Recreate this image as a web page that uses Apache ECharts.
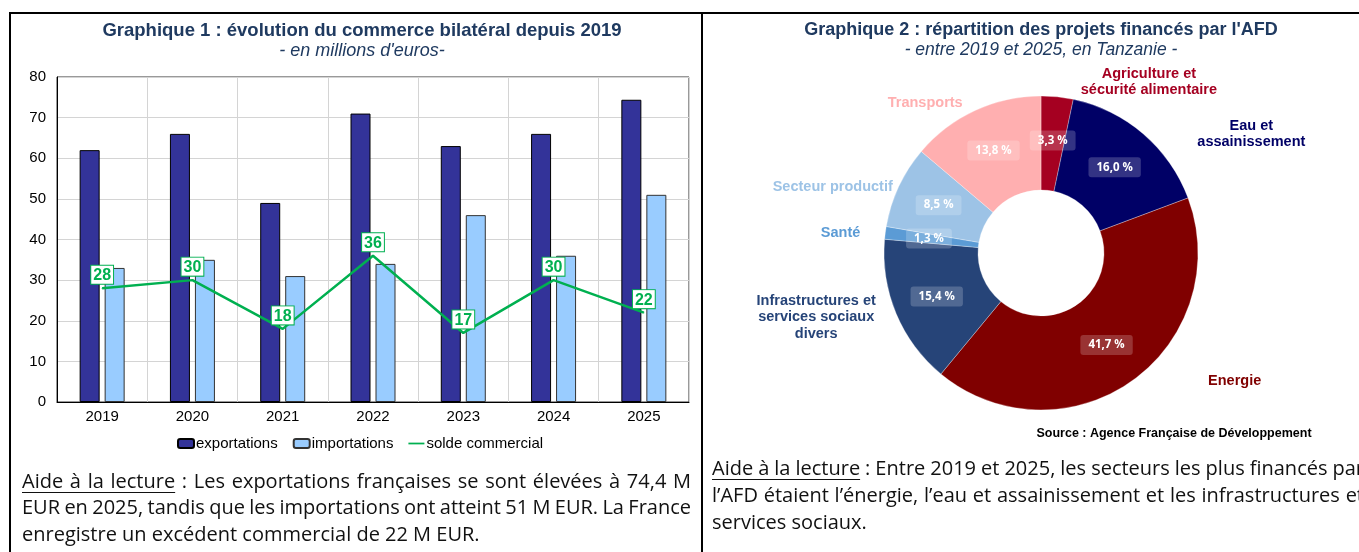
<!DOCTYPE html>
<html><head><meta charset="utf-8">
<script src="https://cdn.jsdelivr.net/npm/echarts@6/dist/echarts.min.js"></script>
<style>html,body{margin:0;padding:0;background:#fff}#c{width:1359px;height:552px}</style>
</head><body><div id="c"></div>
<script>
// ---- Data ----
const years = ['2019', '2020', '2021', '2022', '2023', '2024', '2025'];
const exportations = [62, 66, 49, 71, 63, 66, 74.4];
const importations = [33, 35, 31, 34, 46, 36, 51];
const solde = [28, 30, 18, 36, 17, 30, 22];
const yTicks = [0, 10, 20, 30, 40, 50, 60, 70, 80];

const sectors = ['Agriculture et\nsécurité alimentaire', 'Eau et\nassainissement', 'Energie',
  'Infrastructures et\nservices sociaux\ndivers', 'Santé', 'Secteur productif', 'Transports'];
const shares = [3.3, 16.0, 41.7, 15.4, 1.3, 8.5, 13.8];

// ---- Styles ----
const sectorColors = ['#A50021', '#000066', '#800000', '#264478', '#5B9BD5', '#9DC3E6', '#FFAFB0'];
const labelLen1 = [15, 0, 0, 9, 0, 0, 8];
const labelLen2 = [21, 53, 75, 11, 24, 5, 8];
const titleColor = '#1F3A60';
const ARIAL = 'Liberation Sans, Arial, sans-serif';
const BODY = '20px "Open Sans", sans-serif';
const OUTER_FONT = 'bold 14.5px Liberation Sans, Arial, sans-serif';

const chart = echarts.init(document.getElementById('c'));

const mctx = document.createElement('canvas').getContext('2d');
function measure(t, font) { mctx.font = font; return mctx.measureText(t).width; }

function paragraph(lines, x0, y0, width, lh, underlineWords) {
  const els = [];
  lines.forEach((ln, i) => {
    const y = y0 + i * lh;
    const words = ln.split(' ');
    const justify = i < lines.length - 1;
    const widths = words.map(w => measure(w, BODY));
    const total = widths.reduce((a, b) => a + b, 0);
    const space = measure(' ', BODY);
    const gap = justify ? Math.max(space * 0.6, (width - total) / (words.length - 1)) : space;
    let x = x0;
    let ulEnd = x0;
    words.forEach((w, k) => {
      els.push({ type: 'text', x: x, y: y, silent: true,
        style: { text: w, font: BODY, fill: '#111', verticalAlign: 'middle' } });
      if (i === 0 && k < underlineWords) ulEnd = x + widths[k];
      x += widths[k] + gap;
    });
    if (i === 0) {
      els.push({ type: 'line', silent: true, shape: { x1: x0, y1: y + 10.5, x2: ulEnd, y2: y + 10.5 },
        style: { stroke: '#111', lineWidth: 1 } });
    }
  });
  return els;
}

const leftText = [
  'Aide à la lecture : Les exportations françaises se sont élevées à 74,4 M',
  'EUR en 2025, tandis que les importations ont atteint 51 M EUR. La France',
  'enregistre un excédent commercial de 22 M EUR.'
];
const rightText = [
  'Aide à la lecture : Entre 2019 et 2025, les secteurs les plus financés par',
  'l’AFD étaient l’énergie, l’eau et assainissement et les infrastructures et',
  'services sociaux.'
];

const graphics = [
  { type: 'line', silent: true, shape: { x1: 9, y1: 13, x2: 1359, y2: 13 }, style: { stroke: '#000', lineWidth: 2 } },
  { type: 'line', silent: true, shape: { x1: 10, y1: 12, x2: 10, y2: 552 }, style: { stroke: '#000', lineWidth: 2 } },
  { type: 'line', silent: true, shape: { x1: 702, y1: 12, x2: 702, y2: 552 }, style: { stroke: '#000', lineWidth: 2 } },
  { type: 'text', x: 362, y: 31, silent: true, style: { text: 'Graphique 1 : évolution du commerce bilatéral depuis 2019',
    font: 'bold 18.5px ' + ARIAL, fill: titleColor, align: 'center', verticalAlign: 'middle' } },
  { type: 'text', x: 362, y: 51, silent: true, style: { text: '- en millions d\'euros-',
    font: 'italic 18px ' + ARIAL, fill: titleColor, align: 'center', verticalAlign: 'middle' } },
  { type: 'text', x: 1041, y: 30, silent: true, style: { text: 'Graphique 2 : répartition des projets financés par l\'AFD',
    font: 'bold 18px ' + ARIAL, fill: titleColor, align: 'center', verticalAlign: 'middle' } },
  { type: 'text', x: 1041, y: 50, silent: true, style: { text: '- entre 2019 et 2025, en Tanzanie -',
    font: 'italic 17.5px ' + ARIAL, fill: titleColor, align: 'center', verticalAlign: 'middle' } },
  { type: 'text', x: 1174, y: 434, silent: true, style: { text: 'Source : Agence Française de Développement',
    font: 'bold 12.5px ' + ARIAL, fill: '#000', align: 'center', verticalAlign: 'middle' } }
].concat(paragraph(leftText, 22, 482, 669, 26.5, 4))
 .concat(paragraph(rightText, 712, 469, 652, 27, 4));

const fmtPct = v => v.toFixed(1).replace('.', ',') + ' %';

const outerData = sectors.map((s, i) => {
  const w = Math.max.apply(null, s.split('\n').map(t => measure(t, OUTER_FONT))) + 2;
  return {
    name: s, value: shares[i],
    itemStyle: { color: 'rgba(0,0,0,0)' },
    labelLine: { length: labelLen1[i], length2: labelLen2[i] },
    label: { color: sectorColors[i],
      rich: { c: { width: w, align: 'center', color: sectorColors[i], fontSize: 14.5, fontWeight: 'bold',
        fontFamily: ARIAL, lineHeight: 16.5 } } }
  };
});

const option = {
  animation: false,
  backgroundColor: '#fff',
  textStyle: { fontFamily: ARIAL },
  grid: { left: 57, top: 77, width: 632, height: 325, show: true, borderColor: '#333', borderWidth: 1 },
  legend: {
    left: 172, top: 431, itemWidth: 16, itemHeight: 9, itemGap: 15,
    textStyle: { fontSize: 15, color: '#000', fontFamily: ARIAL, padding: [0, 0, 0, -3] },
    data: [{ name: 'exportations' }, { name: 'importations' },
      { name: 'solde commercial', icon: 'path://M0,0 L32,0 L32,3.5 L0,3.5 Z' }]
  },
  xAxis: {
    type: 'category', data: years,
    axisLine: { lineStyle: { color: '#000' } },
    axisTick: { show: false },
    axisLabel: { color: '#000', fontSize: 15, margin: 7 },
    splitLine: { show: true, lineStyle: { color: '#D4D4D4' } }
  },
  yAxis: {
    type: 'value', min: yTicks[0], max: yTicks[yTicks.length - 1], interval: 10,
    axisLine: { show: true, lineStyle: { color: '#000' } },
    axisTick: { show: false },
    axisLabel: { color: '#000', fontSize: 15, margin: 11 },
    splitLine: { lineStyle: { color: '#D4D4D4' } }
  },
  series: [
    { name: 'exportations', type: 'bar', data: exportations, barWidth: 20, barGap: '25%',
      itemStyle: { color: '#333399', borderColor: '#000', borderWidth: 1 } },
    { name: 'importations', type: 'bar', data: importations, barWidth: 20,
      itemStyle: { color: '#99CCFF', borderColor: '#333', borderWidth: 1 } },
    { name: 'solde commercial', type: 'line', data: solde, symbol: 'circle', symbolSize: 1, z: 5,
      itemStyle: { color: '#00B050' },
      lineStyle: { color: '#00B050', width: 2.5 },
      label: { show: true, position: 'top', distance: 4, color: '#00B050', fontWeight: 'bold', fontSize: 16,
        fontFamily: 'Liberation Sans Narrow, Liberation Sans, Arial',
        backgroundColor: '#fff', borderColor: '#00B050', borderWidth: 1, padding: [2, 2, 0, 2] } },
    { name: 'labels', type: 'pie', center: [1041, 253], radius: [63, 157], startAngle: 90, clockwise: true,
      silent: true, avoidLabelOverlap: false,
      data: outerData,
      itemStyle: { borderWidth: 0 },
      labelLine: { show: false },
      label: { show: true, position: 'outside', alignTo: 'none', distanceToLabelLine: 0,
        formatter: p => p.name.split('\n').map(t => '{c|' + t + '}').join('\n') } },
    { name: 'AFD', type: 'pie', center: [1041, 253], radius: [63, 157], startAngle: 90, clockwise: true,
      silent: true, avoidLabelOverlap: false,
      data: sectors.map((s, i) => ({ name: s, value: shares[i], itemStyle: { color: sectorColors[i] } })),
      itemStyle: { borderColor: 'rgba(255,255,255,0.6)', borderWidth: 0.5 },
      labelLine: { show: false },
      label: { show: true, position: 'inside', formatter: p => fmtPct(p.value), color: '#fff',
        fontSize: 11.5, fontWeight: 'bold', fontFamily: '"Open Sans", sans-serif',
        backgroundColor: 'rgba(255,255,255,0.2)', borderRadius: 3, padding: [4, 8] } }
  ],
  graphic: graphics
};
chart.setOption(option);
</script></body></html>
